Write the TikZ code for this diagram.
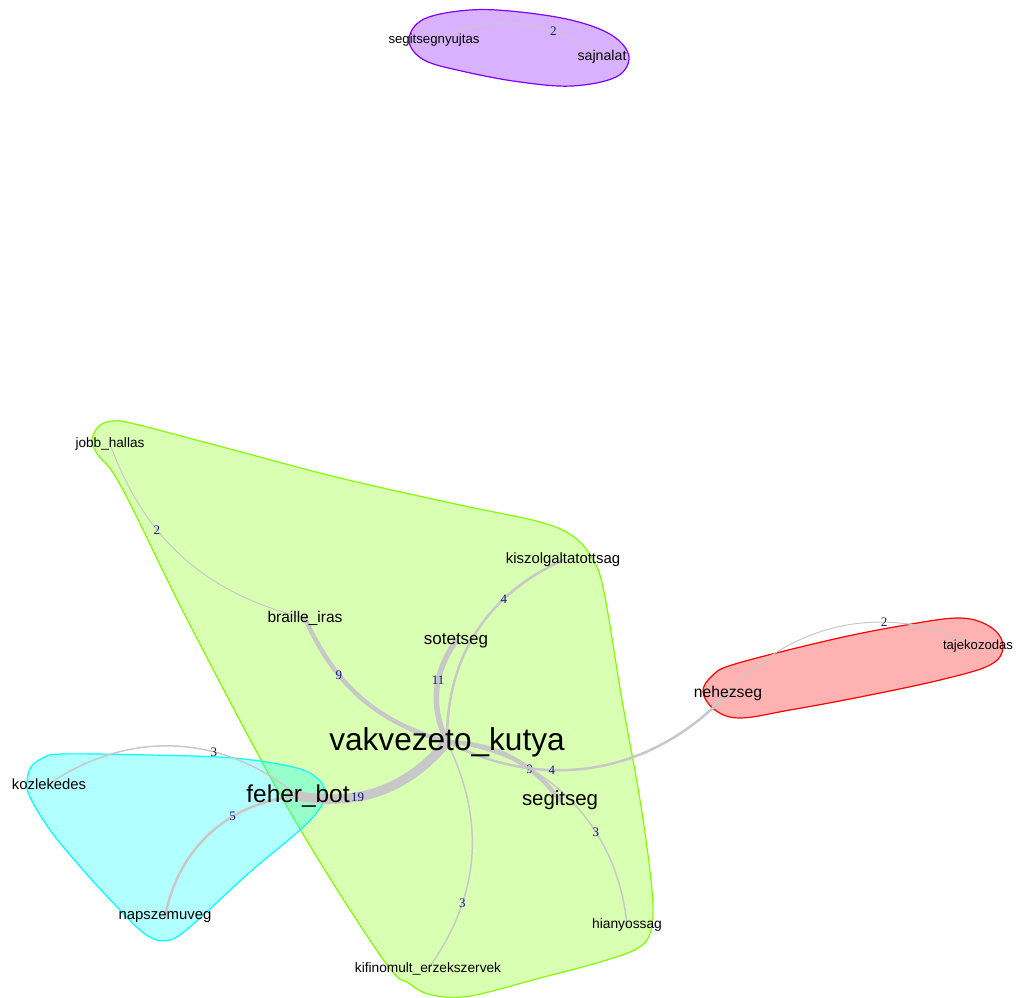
\documentclass[tikz,border=0pt]{standalone}
\usepackage{fontspec}
\setmainfont{Liberation Sans}
\newfontfamily\edgefont{Liberation Serif}
\usepackage{xcolor}
\definecolor{hullred}{RGB}{255, 0, 0}
\definecolor{hullgreen}{RGB}{128, 255, 0}
\definecolor{hullcyan}{RGB}{0, 255, 255}
\definecolor{hullpurple}{RGB}{128, 0, 255}
\definecolor{edgegray}{RGB}{200, 200, 200}
\definecolor{labelblue}{RGB}{20, 20, 140}
\usepackage{tikz}
\pgfdeclarelayer{hulls}
\pgfdeclarelayer{edges}
\pgfsetlayers{hulls,edges,main}
\newcommand{\lblsize}[1]{\fontsize{#1}{#1}\selectfont}

\begin{document}
\begin{tikzpicture}[x=1pt, y=-1pt,
    hull/.style={line width=1.2pt, fill opacity=0.3},
    link/.style={draw=edgegray, line cap=round},
    elbl/.style={font=\edgefont\lblsize{13}, text=labelblue, inner sep=0pt},
    vlbl/.style={inner sep=0pt, text=black}]
    \useasboundingbox (0,0) rectangle (1021,997);

    % Vertices (labels drawn at vertex positions)
    \node[vlbl, font=\lblsize{13.2}] (segny) at (434,40) {segitsegnyujtas};
    \node[vlbl, font=\lblsize{14.2}] (sajn) at (602,57) {sajnalat};
    \node[vlbl, font=\lblsize{13.6}] (jobb) at (110,444) {jobb\_hallas};
    \node[vlbl, font=\lblsize{15.5}] (braille) at (305,618) {braille\_iras};
    \node[vlbl, font=\lblsize{14.9}] (kiszol) at (563,560) {kiszolgaltatottsag};
    \node[vlbl, font=\lblsize{17}] (sotet) at (456,641) {sotetseg};
    \node[vlbl, font=\lblsize{31.6}] (vakkutya) at (447,742) {vakvezeto\_kutya};
    \node[vlbl, font=\lblsize{24.4}] (feherbot) at (298,796) {feher\_bot};
    \node[vlbl, font=\lblsize{20.4}] (segit) at (560,800) {segitseg};
    \node[vlbl, font=\lblsize{14.8}] (kozl) at (49,784) {kozlekedes};
    \node[vlbl, font=\lblsize{14.9}] (napsz) at (165,917) {napszemuveg};
    \node[vlbl, font=\lblsize{15.7}] (nehez) at (728,693) {nehezseg};
    \node[vlbl, font=\lblsize{13.1}] (tajek) at (978,646) {tajekozodas};
    \node[vlbl, font=\lblsize{13.8}] (hiany) at (627,925) {hianyossag};
    \node[vlbl, font=\lblsize{13.7}] (kifin) at (428,969) {kifinomult\_erzekszervek};

    % Group hulls
    \begin{pgfonlayer}{hulls}
    \filldraw[hull, draw=hullpurple, fill=hullpurple] plot[smooth cycle, tension=0.6] coordinates {
        (409,40) (424,19) (470,10) (520,12) (575,21) (613,36) (629,57) (616,77) (572,86) (520,82) (466,72) (424,60)};
    \filldraw[hull, draw=hullgreen, fill=hullgreen] plot[smooth cycle, tension=0.6] coordinates {
        (92,440) (99,426) (113,421) (135,424) (230,449) (340,478) (460,505) (540,522) (574,537) (593,560) (604,592)
        (622,700) (640,800) (652,890) (651,930) (638,948) (600,962) (540,978) (470,996) (432,995) (410,984)
        (382,958) (290,812) (190,625) (122,488) (98,455)};
    \filldraw[hull, draw=hullcyan, fill=hullcyan] plot[smooth cycle, tension=0.6] coordinates {
        (27,782) (31,767) (43,758) (62,754) (150,755) (233,758) (293,767) (317,778) (325,792) (320,808) (300,830)
        (250,872) (200,918) (175,938) (157,940) (140,930) (117,907) (83,870) (50,830) (30,797)};
    \filldraw[hull, draw=hullred, fill=hullred] plot[smooth cycle, tension=0.6] coordinates {
        (703,692) (712,676) (735,664) (830,640) (900,626) (960,618) (992,628) (1003,647) (990,665) (940,680)
        (860,697) (790,710) (740,718) (715,710)};
    \end{pgfonlayer}

    % Edges with weights
    \begin{pgfonlayer}{edges}
    \draw[link, line width=1pt] (segny.center) to[bend left=30] node[elbl, pos=0.7] {2} (sajn.center);
    \draw[link, line width=1pt] (jobb.center) to[bend right=28] node[elbl, pos=0.35] {2} (braille.center);
    \draw[link, line width=4.5pt] (braille.center) to[bend right=25] node[elbl, pos=0.33] {9} (vakkutya.center);
    \draw[link, line width=5.5pt] (sotet.center) to[bend right=30] node[elbl, pos=0.4] {11} (vakkutya.center);
    \draw[link, line width=2.5pt] (kiszol.center) to[bend right=33] node[elbl, pos=0.3] {4} (vakkutya.center);
    \draw[link, line width=1.5pt] (vakkutya.center) to[bend left=31] node[elbl, pos=0.7] {3} (kifin.center);
    \draw[link, line width=9.5pt] (vakkutya.center) to[bend left=30] node[elbl, pos=0.65] {19} (feherbot.center);
    \draw[link, line width=4.5pt] (vakkutya.center) to[bend left=25] node[elbl, pos=0.68] {9} (segit.center);
    \draw[link, line width=2.5pt] (vakkutya.center) to[bend right=37] node[elbl, pos=0.35] {4} (nehez.center);
    \draw[link, line width=1.5pt] (vakkutya.center) to[bend left=39] node[elbl, pos=0.65] {3} (hiany.center);
    \draw[link, line width=1.5pt] (feherbot.center) to[bend right=37] node[elbl, pos=0.35] {3} (kozl.center);
    \draw[link, line width=2.5pt] (feherbot.center) to[bend right=37] node[elbl, pos=0.35] {5} (napsz.center);
    \draw[link, line width=1pt] (nehez.center) to[bend left=37] node[elbl, pos=0.65] {2} (tajek.center);
    \end{pgfonlayer}

\end{tikzpicture}
\end{document}
